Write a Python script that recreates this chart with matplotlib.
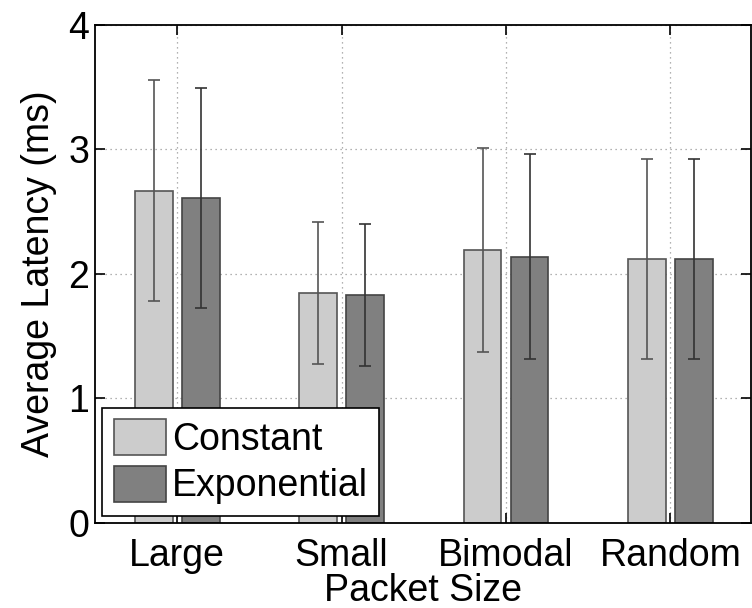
import numpy as np
import matplotlib
matplotlib.use("Agg")
import matplotlib.pyplot as plt

plt.rcParams['font.family'] = ['Liberation Sans', 'DejaVu Sans']

categories = ["Large", "Small", "Bimodal", "Random"]
constant = [2.67, 1.85, 2.19, 2.12]
constant_err = [0.89, 0.57, 0.82, 0.80]
exponential = [2.61, 1.83, 2.14, 2.12]
exponential_err = [0.88, 0.57, 0.82, 0.80]

fs = 27

fig = plt.figure(figsize=(7.52, 6.08), dpi=100)
ax = fig.add_axes([0.1263, 0.1398, 0.8724, 0.8191])

x = np.arange(1, len(categories) + 1)
w = 0.23
off = 0.143
ax.bar(x - off, constant, w, color='#cccccc', edgecolor='#555555', lw=1.2,
       label='Constant', zorder=2)
ax.bar(x + off, exponential, w, color='#808080', edgecolor='#444444', lw=1.2,
       label='Exponential', zorder=2)
ax.errorbar(x - off, constant, yerr=constant_err, fmt='none', ecolor='#555555',
            elinewidth=1.2, capsize=4, capthick=1.2, zorder=3)
ax.errorbar(x + off, exponential, yerr=exponential_err, fmt='none', ecolor='#333333',
            elinewidth=1.2, capsize=4, capthick=1.2, zorder=3)

ax.set_xlim(0.5, 4.49)
ax.set_ylim(0, 4)
ax.set_xticks(x)
ax.set_xticklabels(categories)
ax.set_yticks([0, 1, 2, 3, 4])
ax.grid(True, linestyle=(0, (1, 3)), color='#999999', lw=0.9, zorder=0)
ax.set_axisbelow(True)
ax.tick_params(direction='in', top=True, right=True, labelsize=fs, length=7, width=1.2)
ax.tick_params(axis='x', pad=11)
ax.tick_params(axis='y', pad=4)
for s in ax.spines.values():
    s.set_linewidth(1.3)

ax.set_xlabel("Packet Size", fontsize=fs, labelpad=-1)
ax.set_ylabel("Average Latency (ms)", fontsize=fs, labelpad=8)

leg = ax.legend(loc='lower left', bbox_to_anchor=(0.0, 0.0), fontsize=fs, frameon=True,
                fancybox=False, edgecolor='black', framealpha=1, handlelength=1.4,
                handleheight=1.1, handletextpad=0.15, borderpad=0.3, labelspacing=0.2,
                borderaxespad=0.2)
leg.get_frame().set_linewidth(1.2)

fig.savefig("out.png", dpi=100)
